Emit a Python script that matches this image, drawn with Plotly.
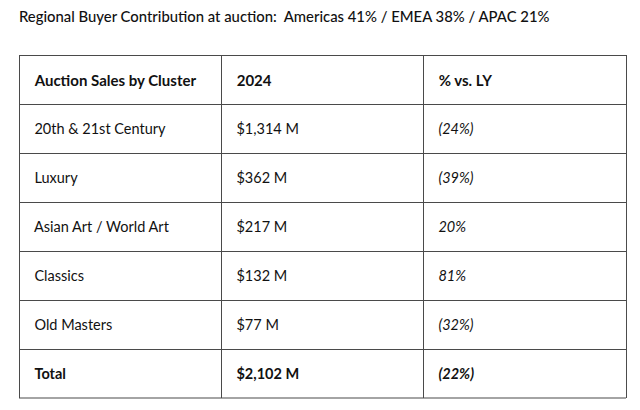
import plotly.graph_objects as go

title_text = "Regional Buyer Contribution at auction:  Americas 41% / EMEA 38% / APAC 21%"
header = ["Auction Sales by Cluster", "2024", "% vs. LY"]
clusters = ["20th & 21st Century", "Luxury", "Asian Art / World Art", "Classics", "Old Masters", "Total"]
sales_2024 = ["$1,314 M", "$362 M", "$217 M", "$132 M", "$77 M", "$2,102 M"]
pct_vs_ly = ["(24%)", "(39%)", "20%", "81%", "(32%)", "(22%)"]

W, H = 640, 410
n = len(clusters)
NBSP = "\u00a0"
PAD = NBSP * 2
ROW_H = 49
TOP = 55
BOTTOM = TOP + ROW_H * (n + 1)
LEFT, RIGHT = 19, 626
TEXT_SHIFT = 7.5  # plotly tables top-align text; shift text layer to centre it
LINE_COLOR = "#4a4a4a"


def cell(txt, bold=False, italic=False):
    t = txt.replace(" ", NBSP)  # keep table from word-wrapping
    if italic:
        t = f"<i>{t}</i>"
    else:
        t = f"<span>{t}</span>"
    if bold:
        t = f"<b>{t}</b>"
    return PAD + t


col1 = [cell(c, bold=(i == n - 1)) for i, c in enumerate(clusters)]
col2 = [cell(c, bold=(i == n - 1)) for i, c in enumerate(sales_2024)]
col3 = [cell(c, bold=(i == n - 1), italic=True) for i, c in enumerate(pct_vs_ly)]

x_dom = [LEFT / W, RIGHT / W]
widths = [202, 202, 203]
line = dict(color=LINE_COLOR, width=1)

# grid layer (borders + white fill)
grid = go.Table(
    domain=dict(x=x_dom, y=[1 - (BOTTOM + 0.5) / H, 1 - TOP / H]),
    columnwidth=widths,
    header=dict(values=["", "", ""], height=ROW_H, line=line, fill=dict(color="white")),
    cells=dict(values=[[""] * n] * 3, height=ROW_H, line=line, fill=dict(color="white")),
)

# text layer
text = go.Table(
    domain=dict(x=x_dom, y=[1 - (BOTTOM + TEXT_SHIFT) / H, 1 - (TOP + TEXT_SHIFT) / H]),
    columnwidth=widths,
    header=dict(
        values=[cell(h, bold=True) for h in header],
        height=ROW_H, align="left",
        line=dict(width=0, color="rgba(0,0,0,0)"),
        fill=dict(color="rgba(0,0,0,0)"),
        font=dict(family="Lato", size=15, color="#111111"),
    ),
    cells=dict(
        values=[col1, col2, col3],
        height=ROW_H, align="left",
        line=dict(width=0, color="rgba(0,0,0,0)"),
        fill=dict(color="rgba(0,0,0,0)"),
        font=dict(family="Lato", size=14.5, color="#111111"),
    ),
)

fig = go.Figure([grid, text])

# closing bottom border of the table
fig.add_shape(type="line", xref="paper", yref="paper",
              x0=LEFT / W, x1=RIGHT / W, y0=1 - BOTTOM / H, y1=1 - BOTTOM / H,
              line=dict(color=LINE_COLOR, width=1.2))

fig.add_annotation(
    text=title_text, xref="paper", yref="paper", x=17 / W, y=1 - 5 / H,
    xanchor="left", yanchor="top", showarrow=False,
    font=dict(family="Lato", size=14.85, color="#111111", weight=500),
)

fig.update_layout(
    width=W, height=H, margin=dict(l=0, r=0, t=0, b=0),
    paper_bgcolor="white", plot_bgcolor="white",
)

fig.write_html("out.html", config={"displayModeBar": False},
               post_script="document.body.style.margin='0';")
